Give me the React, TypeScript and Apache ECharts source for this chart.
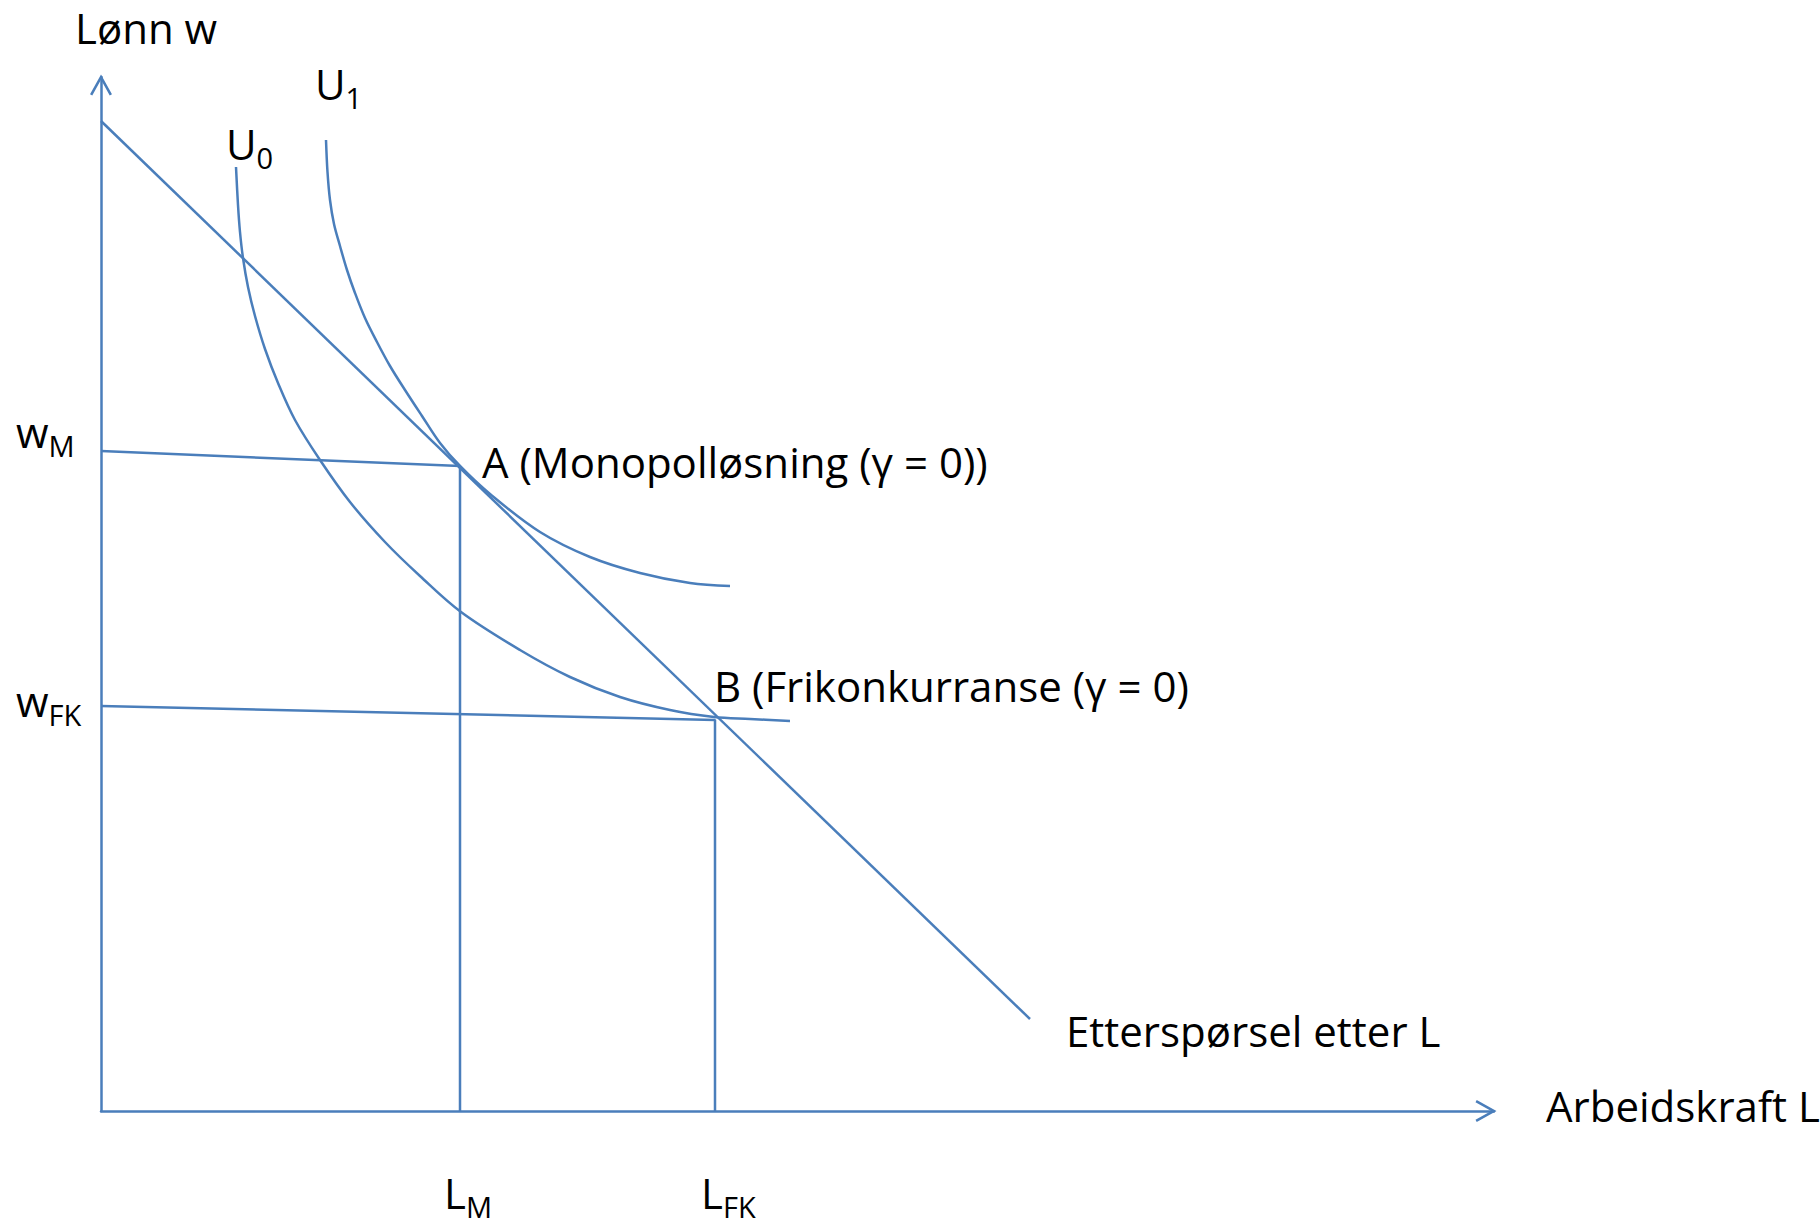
import React, { useEffect, useRef } from 'react';
import * as echarts from 'echarts';

// ---- data (L = Arbeidskraft, w = Lønn), arbitrary units ----
const X_MAX = 139.3;
const Y_MAX = 103.4;

const demandL = [0, 92.9];
const demandW = [99.0, 9.2];

const u0L = [13.5, 13.7, 13.9, 14.2, 14.7, 15.4, 16.4, 17.7, 19.4, 21.9, 24.9, 28.4, 31.9, 36.0, 41.9, 46.9, 51.9, 56.9, 61.3, 64.9, 68.9];
const u0W = [94.4, 90.6, 87.9, 85.3, 82.4, 79.5, 76.2, 72.8, 69.1, 65.1, 60.9, 56.9, 53.5, 49.9, 46.1, 43.4, 41.4, 40.1, 39.4, 39.2, 39.0];

const u1L = [22.5, 22.65, 22.9, 23.3, 23.9, 24.6, 25.4, 26.4, 27.6, 28.9, 30.4, 32.1, 33.9, 35.9, 38.9, 43.9, 48.9, 53.9, 58.9, 62.9];
const u1W = [97.1, 93.9, 91.1, 88.7, 86.5, 84.1, 81.8, 79.3, 76.9, 74.5, 72.1, 69.5, 66.8, 64.5, 61.7, 57.9, 55.4, 53.8, 52.8, 52.5];

// equilibrium points A (monopoly) and B (free competition)
const pointL = [35.9, 61.4];
const pointW = [64.5, 39.1];
// the wage guide lines start on the w-axis (slightly sloped in the original)
const guideStartW = [66.0, 40.5];

// ---- texts ----
const wageTickMain = ['w', 'w'];
const wageTickSub = ['M', 'FK'];
const laborTickMain = ['L', 'L'];
const laborTickSub = ['M', 'FK'];
const pointLabels = ['A (Monopolløsning (γ = 0))', 'B (Frikonkurranse (γ = 0)'];
const curveMain = ['U', 'U'];
const curveSub = ['0', '1'];
const axisTitles = ['Lønn w', 'Arbeidskraft L'];
const demandLabel = 'Etterspørsel etter L';

const BLUE = '#4a7ebb';
const FONT = "'Open Sans', 'Noto Sans', sans-serif";
const ARROW = 'path://M11.14 0 L22.28 20.05 L20 21.31 L11.14 5.36 L2.28 21.31 L0 20.05 Z';

const zip = (a: number[], b: number[]) => a.map((v, i) => [v, b[i]]);

const rich = {
  m: { fontSize: 42, fontFamily: FONT, fill: '#000', color: '#000' },
  s: { fontSize: 29, fontFamily: FONT, fill: '#000', color: '#000', padding: [28, 0, 0, 0] },
};

export default function App() {
  const ref = useRef<HTMLDivElement>(null);
  useEffect(() => {
    const chart = echarts.init(ref.current as HTMLDivElement, null, { renderer: 'svg' });
    const lineStyle = { color: BLUE, width: 2.5 };
    const base: any = {
      type: 'line',
      symbol: 'none',
      showSymbol: false,
      silent: true,
      clip: false,
      lineStyle,
      itemStyle: { color: BLUE },
    };
    const axisCommon: any = {
      type: 'value',
      min: 0,
      axisLine: {
        show: true,
        onZero: true,
        lineStyle: { color: BLUE, width: 2.5 },
        symbol: ['none', ARROW],
        symbolSize: [22, 21],
        symbolOffset: [0, -8],
      },
      axisTick: { show: false },
      axisLabel: { show: false },
      splitLine: { show: false },
    };
    chart.setOption({
      animation: false,
      backgroundColor: '#fff',
      grid: { left: 101, top: 77, right: 326, bottom: 115, containLabel: false, outerBoundsMode: 'none' },
      xAxis: { ...axisCommon, max: X_MAX },
      yAxis: { ...axisCommon, max: Y_MAX },
      series: [
        { ...base, name: 'Etterspørsel', data: zip(demandL, demandW) },
        { ...base, name: 'U0', data: zip(u0L, u0W), smooth: 0.35 },
        { ...base, name: 'U1', data: zip(u1L, u1W), smooth: 0.35 },
        ...pointL.map((l, i) => ({
          ...base,
          name: 'guide' + i,
          data: [[0, guideStartW[i]], [l, pointW[i]], [l, 0]],
        })),
      ],
    });

    const p = (l: number, w: number) => chart.convertToPixel({ gridIndex: 0 }, [l, w]) as number[];
    const texts: any[] = [];
    const add = (x: number, y: number, text: string) =>
      texts.push({
        type: 'text',
        x,
        y,
        silent: true,
        style: { text, rich, align: 'left', verticalAlign: 'middle', fill: '#000', fontSize: 42, fontFamily: FONT },
      });

    const top = p(0, Y_MAX);
    add(top[0] - 26, top[1] - 50, `{m|${axisTitles[0]}}`);
    const right = p(X_MAX, 0);
    add(right[0] + 52, right[1] - 6, `{m|${axisTitles[1]}}`);
    const dEnd = p(demandL[1], demandW[1]);
    add(dEnd[0] + 36, dEnd[1] + 11, `{m|${demandLabel}}`);

    const wDy = [-20, -6];
    guideStartW.forEach((w, i) => {
      const q = p(0, w);
      add(q[0] - 85, q[1] + wDy[i], `{m|${wageTickMain[i]}}{s|${wageTickSub[i]}}`);
    });
    const lDx = [-16, -14];
    pointL.forEach((l, i) => {
      const q = p(l, 0);
      add(q[0] + lDx[i], q[1] + 81, `{m|${laborTickMain[i]}}{s|${laborTickSub[i]}}`);
    });
    const pOff = [[22, -5], [-1, -35]];
    pointL.forEach((l, i) => {
      const q = p(l, pointW[i]);
      add(q[0] + pOff[i][0], q[1] + pOff[i][1], `{m|${pointLabels[i]}}`);
    });
    const curveStarts = [p(u0L[0], u0W[0]), p(u1L[0], u1W[0])];
    const cOff = [[-10, -24], [-11, -57]];
    curveStarts.forEach((q, i) => {
      add(q[0] + cOff[i][0], q[1] + cOff[i][1], `{m|${curveMain[i]}}{s|${curveSub[i]}}`);
    });

    chart.setOption({ graphic: texts });
    return () => chart.dispose();
  }, []);
  return (
    <div
      ref={ref}
      style={{ position: 'fixed', left: 0, top: 0, width: 1820, height: 1226, background: '#fff' }}
    />
  );
}
